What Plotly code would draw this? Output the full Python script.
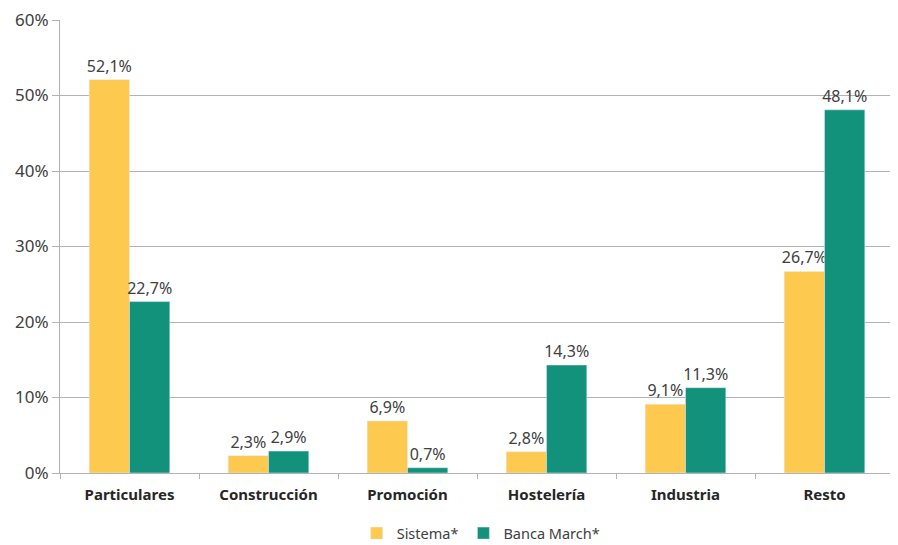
import plotly.graph_objects as go

categorias = ["Particulares", "Construcción", "Promoción", "Hostelería", "Industria", "Resto"]
sistema = [52.1, 2.3, 6.9, 2.8, 9.1, 26.7]
banca_march = [22.7, 2.9, 0.7, 14.3, 11.3, 48.1]

fuente = "Noto Sans, Liberation Sans, sans-serif"
gris_texto = "#404040"

fig = go.Figure()
fig.add_trace(go.Bar(
    x=categorias, y=sistema, name="Sistema*",
    marker_color="#FDC94F",
    texttemplate="%{y:.1f}%", textposition="outside", constraintext="none",
    textfont=dict(size=16, color=gris_texto), cliponaxis=False,
))
fig.add_trace(go.Bar(
    x=categorias, y=banca_march, name="Banca March*",
    marker_color="#12917B",
    texttemplate="%{y:.1f}%", textposition="outside", constraintext="none",
    textfont=dict(size=16, color=gris_texto), cliponaxis=False,
))

# la página deja 8 px de margen en el body: se descuentan aquí
fig.update_layout(
    width=890, height=537,
    margin=dict(l=52, r=4, t=12, b=72, autoexpand=False),
    paper_bgcolor="white", plot_bgcolor="white",
    separators=",.",
    barmode="group", bargap=0.42, bargroupgap=0,
    font=dict(family=fuente, color=gris_texto, size=15),
    showlegend=True,
    legend=dict(orientation="h", x=0.505, xanchor="center",
                yref="container", y=0.022, yanchor="middle",
                font=dict(size=14.5, color=gris_texto), itemwidth=30,
                tracegroupgap=0),
)
fig.update_yaxes(
    range=[0, 60], dtick=10, ticksuffix="%", automargin=False,
    ticklabeloverflow="allow",
    showgrid=True, gridcolor="#B3B3B3", gridwidth=1,
    showline=True, linecolor="#B3B3B3",
    ticks="outside", ticklen=7, tickcolor="#B3B3B3",
    tickfont=dict(size=17, color=gris_texto), zeroline=False,
)
fig.update_xaxes(
    showline=True, linecolor="#B3B3B3", automargin=False,
    ticks="outside", tickson="boundaries", ticklen=5, tickcolor="#B3B3B3",
    ticklabelstandoff=8,
    tickfont=dict(size=15, color="#262626", family="Noto Sans"),
    tickprefix="<b>", ticksuffix="</b>",
)

fig.write_html("out.html")
